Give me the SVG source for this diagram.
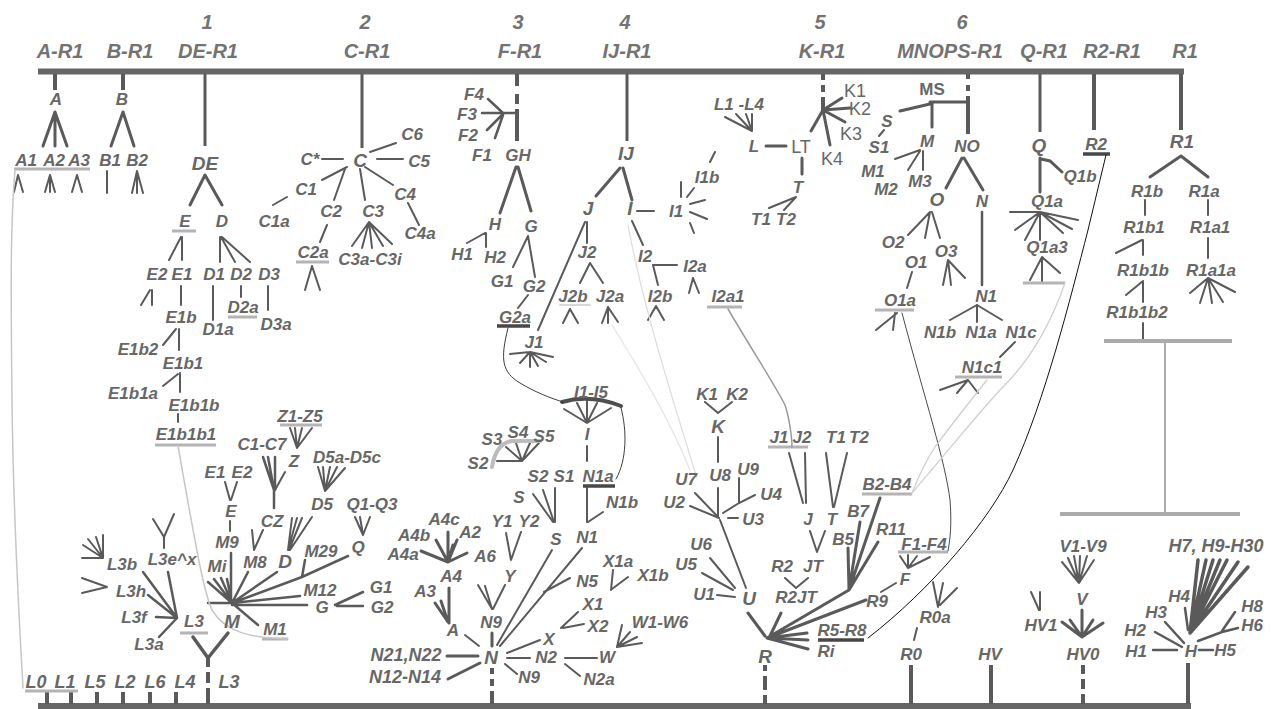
<svg xmlns="http://www.w3.org/2000/svg" width="1277" height="709" viewBox="0 0 1277 709">
<style>
text{font-family:"Liberation Sans",Arial,sans-serif;text-anchor:middle;fill:#676767;font-size:17px;font-style:italic;font-weight:bold}
.h{font-size:20px;fill:#737373}
.m{font-size:19px}
.s{font-size:18px}
.r{font-size:18px;font-style:normal;font-weight:normal}
</style>
<rect width="1277" height="709" fill="#fff"/>
<g id="bars" fill="#666">
<rect x="38" y="68.5" width="1146" height="6"/>
<rect x="38" y="703" width="1153" height="6"/>
</g>
<g id="headers">
<g id="h-1"><text class="h" x="207" y="29">1</text></g>
<g id="h-2"><text class="h" x="365" y="29">2</text></g>
<g id="h-3"><text class="h" x="518" y="29">3</text></g>
<g id="h-4"><text class="h" x="625" y="29">4</text></g>
<g id="h-5"><text class="h" x="820" y="29">5</text></g>
<g id="h-6"><text class="h" x="962" y="29">6</text></g>
<g id="h-AR1"><text class="h" x="60" y="58">A-R1</text></g>
<g id="h-BR1"><text class="h" x="130" y="58">B-R1</text></g>
<g id="h-DER1"><text class="h" x="208" y="58">DE-R1</text></g>
<g id="h-CR1"><text class="h" x="367" y="58">C-R1</text></g>
<g id="h-FR1"><text class="h" x="520" y="58">F-R1</text></g>
<g id="h-IJR1"><text class="h" x="627" y="58">IJ-R1</text></g>
<g id="h-KR1"><text class="h" x="822" y="58">K-R1</text></g>
<g id="h-MNOPSR1"><text class="h" x="950" y="58">MNOPS-R1</text></g>
<g id="h-QR1"><text class="h" x="1044" y="58">Q-R1</text></g>
<g id="h-R2R1"><text class="h" x="1112" y="58">R2-R1</text></g>
<g id="h-R1"><text class="h" x="1185" y="58">R1</text></g>
</g>
<g id="connectors" fill="none" stroke="#5a5a5a" stroke-width="2" stroke-linecap="round">
<path stroke-width="4" stroke-linecap="butt" d="M55,74V90M123,74V90M1094,74V130M1181,74V130"/>
<path stroke-width="3" stroke-linecap="butt" d="M205,74V146M362,74V148M627,74V141M1040,74V132"/>
<path stroke-width="4" stroke-linecap="butt" d="M517,74V86M517,94V104M517,109V141M823,74V80M823,85V92M823,97V110M968,74V79M968,85V91M968,96V134"/>
<path stroke-width="4" stroke-linecap="butt" d="M47,692V704M71,692V704M97,692V704M123,692V704M150,692V704M176,692V704M911,665V704M991,665V704M1188,663V704M208,657V667M208,672V683M208,688V704M492,668V674M492,679V686M492,691V704M765,665V671M765,676V690M765,695V704M1083,665V674M1083,679V689M1083,694V704"/>
<path stroke-width="3" d="M55,112L43,146M55,112V146M55,112L67,146M123,112L111,146M123,112L134,146"/>
<path d="M18,175L14,192M18,175L23,192M50,175L45,192M50,175V192M50,175L55,192M77,175L72,192M77,175L82,192M107,171V193M137,171L132,193M137,171V193M137,171L143,193"/>
<path stroke-width="3" d="M205,175L190,205M205,175L222,205"/>
<path d="M181,237L169,260M182,237V260M220,237V262M221,237L235,262M222,237L250,262M150,290L141,305M152,290V305M181,286V305M213,286V320M241,286V297M268,286V310M179,329V350M176,329L163,345M180,373V392M178,374L163,386M178,414V422"/>
<path d="M322,159L343,159M370,152L396,143M377,159L403,159M365,167L393,185M322,180L347,167M345,169L334,200M360,169L365,200M408,203L419,225M273,205L287,197M327,225L320,242M312,266L305,290M312,266L320,290M369,222L352,246M369,222L362,248M369,222L372,248M369,222L383,246M369,222L392,244"/>
<path stroke-width="2.5" d="M488,99L503,113M482,113H517M487,130L503,114M495,138L503,115"/>
<path stroke-width="3" d="M516,167L500,213M518,167L531,211"/>
<path d="M485,233L467,243M486,233V247M528,236L513,267M528,236L535,277M528,295L518,308"/>
<path stroke-width="3" d="M620,168L596,196M623,168L632,200"/>
<path d="M637,211H654M681,182V197M687,197L694,188M690,204L705,200M690,212L707,219M690,223L694,233M710,162L715,152M632,221L643,245M653,265H677M653,265L658,285M693,278L689,293M693,278L699,293M656,306L648,320M656,306L664,320"/>
<path d="M587,222V243M585,222L538,330M590,263L580,283M590,263L603,283M570,309L563,323M570,309L578,323M608,307L602,323M608,307V323M608,307L618,322M530,352L510,354M530,352L520,363M530,352V367M530,352L538,366M530,352L546,362M530,352L553,357"/>
<path d="M587,423L564,409M587,423L577,403M587,423V401M587,423L597,403M587,423L611,408M587,446V461"/>
<path d="M587,488V522M588,522L603,512M582,548L500,646M544,592L570,578"/>
<path d="M522,461L497,461M522,461L506,447M522,461L516,443M522,461L530,443M522,461L539,443"/>
<path d="M533,494L553,522M543,490L554,522M555,488V522M552,550L497,645"/>
<path d="M506,533L511,560M521,532L511,560M478,585L492,609M485,586L492,609M505,585L493,609"/>
<path stroke-width="3" d="M492,633V646"/>
<path stroke-width="3" d="M448,532V562M436,540L448,562M457,540L448,562M421,551L448,562M467,553L448,562M453,545L448,562M449,588V623M435,603L448,622M441,601L448,622"/>
<path d="M465,635L479,646"/>
<path stroke-width="3" d="M447,656H478M448,679L480,663"/>
<path d="M505,664L517,674M507,658H530M507,653L540,640M565,664L580,676M565,658H597M617,647L622,625M617,647L630,632M617,647L637,637M617,647L642,643M561,628L578,612M563,628L584,624M613,570L611,590M612,589L628,577"/>
<path stroke-width="3" d="M823,110L842,98M823,110L850,108M823,110L845,122M823,110L830,145M823,110L811,131M766,146H786M802,158V174"/>
<path d="M752,131L725,117M752,131L736,114M752,131L746,114M752,131V114M796,197L769,208M796,197L784,210"/>
<path stroke-width="3" d="M930,102H968M932,102V127M930,104L900,111"/>
<path d="M884,130L879,136M920,150L895,159M920,151L908,170M923,151V170"/>
<path stroke-width="3" d="M962,158L946,188M964,158L983,190"/>
<path d="M930,212L908,235M930,212L925,238M932,212L940,238M912,272L907,288M897,313L876,330M895,313L893,330M948,260L943,285M948,260L951,285M948,260L965,278"/>
<path stroke-width="2.5" d="M982,212V285"/>
<path d="M977,305L950,320M977,305V322M977,305L1002,320M1015,342L1000,357M968,380L940,390M968,380L957,393M968,380L978,393"/>
<path stroke-width="3" d="M1040,158V192M1041,159L1050,161L1062,172"/>
<path d="M1040,212L1010,212M1040,212L1078,220M1040,212L1015,230M1040,212L1025,240M1040,212V240M1040,212L1063,233M1040,212L1072,229M1042,257L1030,280M1042,257V282M1042,257L1060,273"/>
<path stroke-width="3" d="M1181,156L1150,177M1181,156L1208,177"/>
<path d="M1145,200V215M1208,200V215M1143,240V255M1142,240L1116,253M1208,238V258M1143,282V302M1143,281L1126,295M1208,278L1190,293M1208,278L1200,303M1208,278L1212,303M1208,278L1223,302M1208,278L1235,292M1143,323V339"/>
<path stroke="#ababab" stroke-width="4" stroke-linecap="butt" d="M1104,341H1232M1060,514H1240"/>
<path stroke="#ababab" stroke-width="2" d="M1165,343V513"/>
<path d="M1062,562L1079,583M1068,558L1079,583M1074,556L1079,583M1080,556L1079,583M1087,556L1079,583M1094,560L1079,583"/>
<path stroke-width="3" d="M1082,610V635M1082,637L1062,622M1082,637L1070,620M1082,637L1093,620M1082,637L1103,623"/>
<path d="M1031,592L1039,610M1040,592V610"/>
<path stroke-width="3.5" d="M1190,633L1198,560M1190,633L1206,560M1190,633L1213,560M1190,633L1220,560M1190,633L1227,560M1190,633L1238,562M1190,633L1248,567"/>
<path stroke-width="2.5" d="M1185,608L1188,630M1165,622L1184,643M1155,632L1182,647M1153,650H1177M1199,650H1213M1198,641L1222,632L1238,628M1222,631L1235,612"/>
<path stroke-width="3" d="M848,548L849,590M860,522L849,590M880,498L849,590M878,542L849,590M849,590L767,638M866,600L767,638M767,638L807,633M767,638L808,640M767,638L808,649M765,636L748,613M770,636L781,613"/>
<path d="M908,568L900,556M908,568L908,555M908,568L917,556M908,568L930,557M896,583L881,592M933,582L938,607M943,583L938,607M957,588L940,605M917,628L914,640"/>
<path d="M785,578L796,588M808,578L796,588M810,531L817,552M825,531L817,552M789,453L803,503M805,453L806,503M826,453L833,507M847,453L834,507"/>
<path d="M705,402L718,413M732,402L718,413M718,437V462M695,493L719,518M690,506L719,518M718,488V516M728,518H738M723,513L739,503L755,495M739,478V503M720,520L746,588M710,558L735,588M702,573L733,590M717,595L735,597"/>
<path d="M290,428L297,448M295,428L297,448M302,428L297,448M312,428L297,448M285,472L275,490"/>
<path stroke-width="2.5" d="M263,457L274,490M268,457L274,490M275,457V490M274,490V508"/>
<path d="M318,467L325,491M323,467L325,491M330,467L325,491M337,467L325,491M345,468L325,491M355,517L363,535M360,517L363,535M370,517L363,535"/>
<path d="M292,518L288,550M297,518L288,550M302,518L289,550M312,517L290,550M252,530L254,550M263,530L254,550M225,482L230,500M237,482L231,500M230,521V531"/>
<path stroke-width="2.5" d="M231,553V602M232,603L208,582M232,603L214,579M232,603L221,578M232,603L227,579M232,603L248,572M232,603L277,572M232,603L302,577L348,556M302,577L305,560M232,603L300,596M232,605H307M232,603L258,625M208,603H232M335,605L363,592M337,606H363"/>
<path stroke-width="2.5" d="M177,618L143,572M177,618L148,595M177,618L168,572M177,618L156,617M177,618L159,637"/>
<path d="M103,558L83,545M103,558L88,539M103,558L96,537M103,558V535M103,558H82M107,587L82,578M107,587L82,593M153,519L164,537M174,514L164,537M164,537V548"/>
<path stroke-width="3.5" d="M193,637L208,658M228,633L208,658"/>
<path stroke="#b4b4b4" stroke-width="3" stroke-linecap="butt" d="M14,169H90M172,231H196M228,317H257M155,445H216M296,262H329M707,307H742M875,310H914M955,377H1002M1023,283H1065M280,425H322M768,447H808M262,639H288M180,633H208M25,691H78M862,494H912M898,552H948"/>
<path stroke="#d8d8d8" stroke-width="2" d="M560,305H590"/>
<path stroke="#474747" stroke-width="3.5" stroke-linecap="butt" d="M497,326H530M583,486H615M1083,154H1110M818,640H864"/>
<path stroke="#bcbcbc" stroke-width="4" d="M492,467Q496,443 512,441L540,441"/>
<path stroke="#4f4f4f" stroke-width="4" d="M562,402Q590,394 621,406"/>
<path stroke="#c6c6c6" stroke-width="1.5" d="M15,170C10,230 11,300 12,400C13,500 18,600 23,688"/>
<path stroke="#c6c6c6" stroke-width="1.5" d="M178,446L184,480C195,540 203,590 212,610C225,632 250,638 288,639"/>
<path stroke="#3c3c3c" stroke-width="1" d="M508,328C500,360 502,372 520,383C535,392 550,398 563,402"/>
<path stroke="#3c3c3c" stroke-width="1" d="M621,408C627,430 627,460 616,479"/>
<path stroke="#9a9a9a" stroke-width="1.5" d="M728,309C755,355 775,385 785,405C790,420 792,440 792,447"/>
<path stroke="#4a4a4a" stroke-width="1" d="M902,313C925,400 945,460 950,500C952,525 950,540 948,551"/>
<path stroke="#cfcfcf" stroke-width="1.3" d="M1065,283C1045,340 1020,370 1003,387C985,405 960,437 912,493"/>
<path stroke="#cfcfcf" stroke-width="1.3" d="M987,380C975,395 955,420 935,447C925,462 918,478 912,493"/>
<path stroke="#111" stroke-width="1" d="M1106,155L1088,230C1070,300 1045,400 1013,470C990,520 930,590 868,638"/>
<path stroke="#dcdcdc" stroke-width="1.2" d="M628,225C640,290 660,360 697,478"/>
<path stroke="#e4e4e4" stroke-width="1.2" d="M612,325C640,370 670,420 690,470"/>
</g>
<g id="nodes">
<g id="n-A"><text x="56" y="105">A</text></g>
<g id="n-B"><text x="122" y="105">B</text></g>
<g id="n-A1"><text x="26" y="166">A1</text></g>
<g id="n-A2"><text x="54" y="166">A2</text></g>
<g id="n-A3"><text x="79" y="166">A3</text></g>
<g id="n-B1"><text x="110" y="166">B1</text></g>
<g id="n-B2"><text x="137" y="166">B2</text></g>
<g id="n-DE"><text class="m" x="205" y="170">DE</text></g>
<g id="n-E"><text x="185" y="227">E</text></g>
<g id="n-D"><text x="222" y="227">D</text></g>
<g id="n-E2"><text x="157" y="280">E2</text></g>
<g id="n-E1"><text x="182" y="280">E1</text></g>
<g id="n-D1"><text x="214" y="280">D1</text></g>
<g id="n-D2"><text x="241" y="280">D2</text></g>
<g id="n-D3"><text x="269" y="280">D3</text></g>
<g id="n-D2a"><text x="243" y="313">D2a</text></g>
<g id="n-E1b"><text x="181" y="323">E1b</text></g>
<g id="n-D1a"><text x="218" y="335">D1a</text></g>
<g id="n-D3a"><text x="276" y="330">D3a</text></g>
<g id="n-E1b2"><text x="138" y="355">E1b2</text></g>
<g id="n-E1b1"><text x="183" y="369">E1b1</text></g>
<g id="n-E1b1a"><text x="133" y="399">E1b1a</text></g>
<g id="n-E1b1b"><text x="194" y="411">E1b1b</text></g>
<g id="n-E1b1b1"><text x="186" y="440">E1b1b1</text></g>
<g id="n-C"><text class="m" x="360" y="167">C</text></g>
<g id="n-Cstar"><text x="310" y="165">C*</text></g>
<g id="n-C6"><text x="412" y="140">C6</text></g>
<g id="n-C5"><text x="419" y="167">C5</text></g>
<g id="n-C1"><text x="306" y="195">C1</text></g>
<g id="n-C4"><text x="405" y="200">C4</text></g>
<g id="n-C2"><text x="331" y="217">C2</text></g>
<g id="n-C3"><text x="373" y="217">C3</text></g>
<g id="n-C1a"><text x="274" y="227">C1a</text></g>
<g id="n-C4a"><text x="420" y="239">C4a</text></g>
<g id="n-C2a"><text x="313" y="258">C2a</text></g>
<g id="n-C3a-C3i"><text x="370" y="265">C3a-C3i</text></g>
<g id="n-F4"><text x="474" y="100">F4</text></g>
<g id="n-F3"><text x="467" y="120">F3</text></g>
<g id="n-F2"><text x="468" y="141">F2</text></g>
<g id="n-F1"><text x="482" y="161">F1</text></g>
<g id="n-GH"><text x="518" y="161">GH</text></g>
<g id="n-H"><text x="495" y="230">H</text></g>
<g id="n-G"><text x="531" y="232">G</text></g>
<g id="n-H1"><text x="462" y="260">H1</text></g>
<g id="n-H2"><text x="495" y="263">H2</text></g>
<g id="n-G1"><text x="502" y="287">G1</text></g>
<g id="n-G2"><text x="534" y="292">G2</text></g>
<g id="n-G2a"><text x="515" y="323">G2a</text></g>
<g id="n-IJ"><text class="m" x="626" y="160">IJ</text></g>
<g id="n-J"><text class="m" x="588" y="215">J</text></g>
<g id="n-I"><text class="m" x="630" y="215">I</text></g>
<g id="n-I1"><text x="676" y="217">I1</text></g>
<g id="n-I1b"><text x="707" y="183">I1b</text></g>
<g id="n-I2"><text x="645" y="262">I2</text></g>
<g id="n-I2a"><text x="695" y="272">I2a</text></g>
<g id="n-I2b"><text x="660" y="302">I2b</text></g>
<g id="n-I2a1"><text x="728" y="302">I2a1</text></g>
<g id="n-J2"><text x="587" y="258">J2</text></g>
<g id="n-J2b"><text x="573" y="302">J2b</text></g>
<g id="n-J2a"><text x="610" y="302">J2a</text></g>
<g id="n-J1"><text x="534" y="348">J1</text></g>
<g id="n-I1-I5"><text x="591" y="398">I1-I5</text></g>
<g id="n-I-2"><text x="587" y="440">I</text></g>
<g id="n-N1a"><text x="598" y="482">N1a</text></g>
<g id="n-N1b"><text x="622" y="508">N1b</text></g>
<g id="n-N1"><text x="587" y="543">N1</text></g>
<g id="n-N5"><text x="587" y="587">N5</text></g>
<g id="n-S3"><text x="492" y="445">S3</text></g>
<g id="n-S4"><text x="518" y="438">S4</text></g>
<g id="n-S5"><text x="544" y="442">S5</text></g>
<g id="n-S2-a"><text x="478" y="469">S2</text></g>
<g id="n-S2-b"><text x="538" y="482">S2</text></g>
<g id="n-S1-b"><text x="564" y="482">S1</text></g>
<g id="n-S-b"><text x="519" y="503">S</text></g>
<g id="n-S-c"><text x="556" y="545">S</text></g>
<g id="n-Y1"><text x="502" y="527">Y1</text></g>
<g id="n-Y2"><text x="529" y="527">Y2</text></g>
<g id="n-Y"><text x="510" y="582">Y</text></g>
<g id="n-N9-a"><text x="491" y="628">N9</text></g>
<g id="n-A4c"><text x="444" y="525">A4c</text></g>
<g id="n-A4b"><text x="414" y="541">A4b</text></g>
<g id="n-A2-b"><text x="470" y="538">A2</text></g>
<g id="n-A4a"><text x="403" y="560">A4a</text></g>
<g id="n-A6"><text x="485" y="562">A6</text></g>
<g id="n-A4"><text x="451" y="582">A4</text></g>
<g id="n-A3-b"><text x="425" y="597">A3</text></g>
<g id="n-A-b"><text x="453" y="636">A</text></g>
<g id="n-N"><text class="m" x="491" y="664">N</text></g>
<g id="n-N21N22"><text class="s" x="406" y="661">N21,N22</text></g>
<g id="n-N12-N14"><text class="s" x="405" y="683">N12-N14</text></g>
<g id="n-N9-b"><text x="529" y="683">N9</text></g>
<g id="n-N2"><text x="546" y="663">N2</text></g>
<g id="n-X"><text x="549" y="645">X</text></g>
<g id="n-N2a"><text x="599" y="685">N2a</text></g>
<g id="n-W"><text x="607" y="663">W</text></g>
<g id="n-W1-W6"><text x="660" y="628">W1-W6</text></g>
<g id="n-X1"><text x="593" y="610">X1</text></g>
<g id="n-X2"><text x="598" y="632">X2</text></g>
<g id="n-X1a"><text x="618" y="567">X1a</text></g>
<g id="n-X1b"><text x="653" y="581">X1b</text></g>
<g id="n-K1"><text class="r" x="855" y="97">K1</text></g>
<g id="n-K2"><text class="r" x="860" y="115">K2</text></g>
<g id="n-K3"><text class="r" x="851" y="140">K3</text></g>
<g id="n-K4"><text class="r" x="832" y="165">K4</text></g>
<g id="n-LT"><text class="r" x="801" y="153">LT</text></g>
<g id="n-L"><text x="754" y="152">L</text></g>
<g id="n-L1-L4"><text x="739" y="110">L1 -L4</text></g>
<g id="n-T"><text x="798" y="193">T</text></g>
<g id="n-T1"><text x="761" y="225">T1</text></g>
<g id="n-T2"><text x="786" y="225">T2</text></g>
<g id="n-MS"><text class="r" x="932" y="95" style="font-weight:bold;font-size:17px">MS</text></g>
<g id="n-S"><text x="887" y="127">S</text></g>
<g id="n-S1"><text x="879" y="153">S1</text></g>
<g id="n-M"><text x="927" y="147">M</text></g>
<g id="n-M1"><text x="873" y="177">M1</text></g>
<g id="n-M2"><text x="886" y="195">M2</text></g>
<g id="n-M3"><text x="920" y="187">M3</text></g>
<g id="n-NO"><text x="967" y="152">NO</text></g>
<g id="n-N-top"><text x="982" y="207">N</text></g>
<g id="n-O"><text class="m" x="937" y="206">O</text></g>
<g id="n-O2"><text x="893" y="248">O2</text></g>
<g id="n-O3"><text x="946" y="257">O3</text></g>
<g id="n-O1"><text x="916" y="268">O1</text></g>
<g id="n-O1a"><text x="900" y="306">O1a</text></g>
<g id="n-N1-top"><text x="986" y="302">N1</text></g>
<g id="n-N1b-top"><text x="940" y="338">N1b</text></g>
<g id="n-N1a-top"><text x="981" y="338">N1a</text></g>
<g id="n-N1c"><text x="1021" y="338">N1c</text></g>
<g id="n-N1c1"><text x="982" y="373">N1c1</text></g>
<g id="n-Q"><text class="m" x="1039" y="152">Q</text></g>
<g id="n-Q1b"><text x="1080" y="182">Q1b</text></g>
<g id="n-Q1a"><text x="1047" y="207">Q1a</text></g>
<g id="n-Q1a3"><text x="1047" y="253">Q1a3</text></g>
<g id="n-R2"><text x="1096" y="150">R2</text></g>
<g id="n-R1"><text class="m" x="1182" y="148">R1</text></g>
<g id="n-R1b"><text x="1147" y="197">R1b</text></g>
<g id="n-R1a"><text x="1204" y="197">R1a</text></g>
<g id="n-R1b1"><text x="1144" y="233">R1b1</text></g>
<g id="n-R1a1"><text x="1210" y="233">R1a1</text></g>
<g id="n-R1b1b"><text x="1143" y="276">R1b1b</text></g>
<g id="n-R1a1a"><text x="1211" y="276">R1a1a</text></g>
<g id="n-R1b1b2"><text x="1137" y="318">R1b1b2</text></g>
<g id="n-V1-V9"><text x="1083" y="552">V1-V9</text></g>
<g id="n-V"><text x="1082" y="605">V</text></g>
<g id="n-HV1"><text x="1041" y="631">HV1</text></g>
<g id="n-HV0"><text x="1083" y="660">HV0</text></g>
<g id="n-HV"><text x="990" y="660">HV</text></g>
<g id="n-H7H9-H30"><text class="s" x="1216" y="552">H7, H9-H30</text></g>
<g id="n-H4"><text x="1179" y="602">H4</text></g>
<g id="n-H3"><text x="1156" y="618">H3</text></g>
<g id="n-H2-b"><text x="1135" y="636">H2</text></g>
<g id="n-H1-b"><text x="1136" y="657">H1</text></g>
<g id="n-H-b"><text x="1191" y="657">H</text></g>
<g id="n-H5"><text x="1225" y="656">H5</text></g>
<g id="n-H6"><text x="1252" y="631">H6</text></g>
<g id="n-H8"><text x="1252" y="612">H8</text></g>
<g id="n-B2-B4"><text x="887" y="490">B2-B4</text></g>
<g id="n-B7"><text x="858" y="517">B7</text></g>
<g id="n-R11"><text x="891" y="535">R11</text></g>
<g id="n-B5"><text x="843" y="545">B5</text></g>
<g id="n-F1-F4"><text x="924" y="550">F1-F4</text></g>
<g id="n-F"><text x="905" y="585">F</text></g>
<g id="n-R9"><text x="877" y="607">R9</text></g>
<g id="n-R5-R8"><text x="842" y="636">R5-R8</text></g>
<g id="n-Ri"><text x="826" y="657">Ri</text></g>
<g id="n-R"><text class="m" x="765" y="663">R</text></g>
<g id="n-R0a"><text x="935" y="623">R0a</text></g>
<g id="n-R0"><text x="911" y="660">R0</text></g>
<g id="n-R2JT"><text x="796" y="603">R2JT</text></g>
<g id="n-R2-b"><text x="782" y="572">R2</text></g>
<g id="n-JT"><text x="813" y="572">JT</text></g>
<g id="n-J-b"><text x="808" y="525">J</text></g>
<g id="n-T-b"><text x="832" y="525">T</text></g>
<g id="n-J1-b"><text x="779" y="443">J1</text></g>
<g id="n-J2-b"><text x="802" y="443">J2</text></g>
<g id="n-T1-b"><text x="836" y="443">T1</text></g>
<g id="n-T2-b"><text x="859" y="443">T2</text></g>
<g id="n-K1-b"><text x="707" y="400">K1</text></g>
<g id="n-K2-b"><text x="737" y="400">K2</text></g>
<g id="n-K"><text class="m" x="718" y="433">K</text></g>
<g id="n-U7"><text x="686" y="485">U7</text></g>
<g id="n-U8"><text x="720" y="481">U8</text></g>
<g id="n-U9"><text x="748" y="475">U9</text></g>
<g id="n-U2"><text x="674" y="508">U2</text></g>
<g id="n-U4"><text x="771" y="500">U4</text></g>
<g id="n-U3"><text x="753" y="525">U3</text></g>
<g id="n-U6"><text x="701" y="550">U6</text></g>
<g id="n-U5"><text x="686" y="570">U5</text></g>
<g id="n-U1"><text x="704" y="600">U1</text></g>
<g id="n-U"><text class="m" x="749" y="605">U</text></g>
<g id="n-Z1-Z5"><text x="300" y="422">Z1-Z5</text></g>
<g id="n-Z"><text x="294" y="467">Z</text></g>
<g id="n-C1-C7"><text x="262" y="450">C1-C7</text></g>
<g id="n-CZ"><text x="272" y="527">CZ</text></g>
<g id="n-D5a-D5c"><text x="347" y="463">D5a-D5c</text></g>
<g id="n-D5"><text x="322" y="510">D5</text></g>
<g id="n-Q1-Q3"><text x="372" y="510">Q1-Q3</text></g>
<g id="n-Q-b"><text x="358" y="553">Q</text></g>
<g id="n-M29"><text x="321" y="557">M29</text></g>
<g id="n-D-b"><text class="m" x="285" y="568">D</text></g>
<g id="n-M8"><text x="255" y="568">M8</text></g>
<g id="n-E1-b"><text x="215" y="478">E1</text></g>
<g id="n-E2-b"><text x="242" y="478">E2</text></g>
<g id="n-E-b"><text x="231" y="517">E</text></g>
<g id="n-M9"><text x="227" y="548">M9</text></g>
<g id="n-Mi"><text x="217" y="572">Mi</text></g>
<g id="n-M12"><text x="320" y="596">M12</text></g>
<g id="n-G-b"><text x="322" y="613">G</text></g>
<g id="n-G1-b"><text x="381" y="593">G1</text></g>
<g id="n-G2-b"><text x="382" y="613">G2</text></g>
<g id="n-M-b"><text class="m" x="232" y="628">M</text></g>
<g id="n-M1-b"><text x="275" y="635">M1</text></g>
<g id="n-L3"><text x="194" y="627">L3</text></g>
<g id="n-L3b"><text x="122" y="570">L3b</text></g>
<g id="n-L3ex"><text x="172" y="565">L3e^x</text></g>
<g id="n-L3h"><text x="131" y="597">L3h</text></g>
<g id="n-L3f"><text x="134" y="623">L3f</text></g>
<g id="n-L3a"><text x="149" y="650">L3a</text></g>
<g id="n-L3-bottom"><text class="s" x="229" y="688">L3</text></g>
<g id="n-L0"><text class="s" x="36" y="688">L0</text></g>
<g id="n-L1"><text class="s" x="65" y="688">L1</text></g>
<g id="n-L5"><text class="s" x="95" y="688">L5</text></g>
<g id="n-L2"><text class="s" x="125" y="688">L2</text></g>
<g id="n-L6"><text class="s" x="155" y="688">L6</text></g>
<g id="n-L4"><text class="s" x="185" y="688">L4</text></g>
</g>
</svg>
